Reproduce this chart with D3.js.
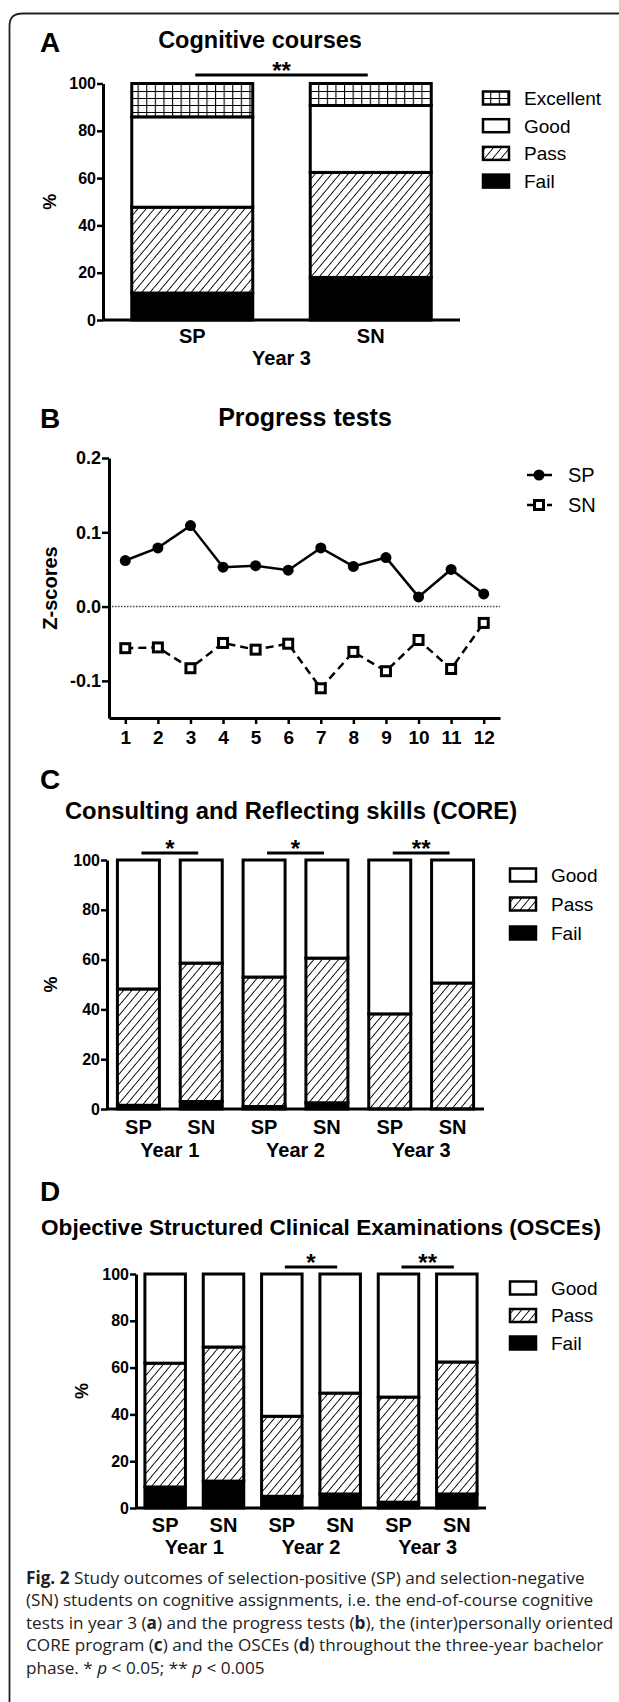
<!DOCTYPE html>
<html>
<head>
<meta charset="utf-8">
<script src="https://cdn.jsdelivr.net/npm/d3@7"></script>
<style>
body { margin: 0; background: #fff; }
svg text { font-family: "Liberation Sans", Arial, sans-serif; fill: #000; }
</style>
</head>
<body>
<svg id="fig" width="619" height="1702"></svg>
<script>
// panel A - cognitive courses (year 3), % per grade
var courseGroups = ["SP", "SN"];
var courseFail = [11.4, 18.0];
var coursePass = [36.3, 44.4];
var courseGood = [38.2, 28.3];
var courseExcellent = [14.1, 9.3];

// panel B - progress tests, z-scores
var testNumbers = [1, 2, 3, 4, 5, 6, 7, 8, 9, 10, 11, 12];
var spScores = [0.062, 0.079, 0.109, 0.053, 0.055, 0.049, 0.079, 0.054, 0.066, 0.013, 0.050, 0.017];
var snScores = [-0.056, -0.055, -0.083, -0.049, -0.058, -0.050, -0.110, -0.061, -0.087, -0.045, -0.084, -0.022];
var zTicks = [-0.1, 0.0, 0.1, 0.2];

// panel C - CORE
var yearGroups = ["SP", "SN", "SP", "SN", "SP", "SN"];
var yearLabels = ["Year 1", "Year 2", "Year 3"];
var coreFail = [1.5, 3.0, 1.0, 2.5, 0, 0];
var corePass = [46.7, 55.6, 52.0, 58.1, 38.2, 50.6];
var coreGood = [51.8, 41.4, 47.0, 39.4, 61.8, 49.4];

// panel D - OSCEs
var osceFail = [9.0, 11.5, 5.0, 6.0, 2.5, 6.0];
var oscePass = [52.9, 57.3, 34.2, 43.1, 44.9, 56.4];
var osceGood = [38.1, 31.2, 60.8, 50.9, 52.6, 37.6];

var pctTicks = [0, 20, 40, 60, 80, 100];

var svg = d3.select("#fig");
var FONT = '"Liberation Sans", Arial, sans-serif';

// patterns
var defs = svg.append("defs");
var hatch = defs.append("pattern").attr("id", "hatch")
  .attr("patternUnits", "userSpaceOnUse").attr("width", 6.3).attr("height", 6.3)
  .attr("patternTransform", "rotate(40)");
hatch.append("rect").attr("width", 6.3).attr("height", 6.3).attr("fill", "#fff");
hatch.append("line").attr("x1", 0).attr("y1", 0).attr("x2", 0).attr("y2", 6.3)
  .attr("stroke", "#000").attr("stroke-width", 1.8);

var grid = defs.append("pattern").attr("id", "grid")
  .attr("patternUnits", "userSpaceOnUse").attr("width", 8.6).attr("height", 7);
grid.append("rect").attr("width", 8.6).attr("height", 7).attr("fill", "#fff");
grid.append("path").attr("d", "M0,0H8.6M0,0V7").attr("stroke", "#000").attr("stroke-width", 2.2);

// frame
svg.append("path").attr("d", "M9.5,1702V26Q9.5,13.5 22.5,13.5H619")
  .attr("fill", "none").attr("stroke", "#222").attr("stroke-width", 1.8);

function panelLetter(t, y) {
  svg.append("text").attr("x", 40).attr("y", y).attr("font-size", 28)
    .attr("font-weight", "bold").text(t);
}

function title(t, x, y, size) {
  svg.append("text").attr("x", x).attr("y", y).attr("text-anchor", "middle")
    .attr("font-size", size).attr("font-weight", "bold").text(t);
}

function styleAxis(g, size) {
  g.attr("font-family", FONT).attr("font-size", size).attr("font-weight", "bold");
  g.select(".domain").attr("stroke-width", 3);
  g.selectAll(".tick line").attr("stroke-width", 2.5);
}

function stackedPanel(cfg) {
  var ids = d3.range(cfg.groups.length);
  var x = d3.scalePoint().domain(ids).range([cfg.left, cfg.right]).padding(0.5);
  var y = d3.scaleLinear().domain([0, 100]).range([cfg.bottom, cfg.top]);
  var g = svg.append("g");

  ids.forEach(function(i) {
    var acc = 0;
    cfg.series.forEach(function(s) {
      var v = s.values[i];
      if (v > 0) {
        g.append("rect")
          .attr("x", x(i) - cfg.barW / 2).attr("width", cfg.barW)
          .attr("y", y(acc + v)).attr("height", y(acc) - y(acc + v))
          .attr("fill", s.fill).attr("stroke", "#000").attr("stroke-width", 3);
      }
      acc += v;
    });
  });

  // axes
  var ya = g.append("g").attr("transform", "translate(" + cfg.left + ",0)")
    .call(d3.axisLeft(y).tickValues(pctTicks).tickSize(6).tickPadding(1).tickSizeOuter(0));
  styleAxis(ya, 16);
  g.append("line").attr("x1", cfg.left).attr("x2", cfg.right)
    .attr("y1", y(0)).attr("y2", y(0)).attr("stroke", "#000").attr("stroke-width", 3);

  g.append("text").attr("transform", "translate(" + cfg.pctX + "," + (y(50)) + ") rotate(-90)")
    .attr("text-anchor", "middle").attr("font-size", 18).attr("font-weight", "bold").text("%");

  // category labels
  ids.forEach(function(i) {
    g.append("text").attr("x", x(i)).attr("y", y(0) + cfg.labelDy)
      .attr("text-anchor", "middle").attr("font-size", 20).attr("font-weight", "bold")
      .text(cfg.groups[i]);
  });
  cfg.years.forEach(function(yr, k) {
    var cx = (x(2 * k) + x(2 * k + 1)) / 2;
    g.append("text").attr("x", cx).attr("y", y(0) + cfg.yearDy)
      .attr("text-anchor", "middle").attr("font-size", 20).attr("font-weight", "bold")
      .text(yr);
  });

  // significance bars
  cfg.sig.forEach(function(s) {
    var x1 = x(s[0]) + 3, x2 = x(s[1]) - 3;
    g.append("line").attr("x1", x1).attr("x2", x2).attr("y1", cfg.sigY).attr("y2", cfg.sigY)
      .attr("stroke", "#000").attr("stroke-width", 3);
    g.append("text").attr("x", (x1 + x2) / 2).attr("y", cfg.sigY + 4)
      .attr("text-anchor", "middle").attr("font-size", 24).attr("font-weight", "bold").text(s[2]);
  });

  // legend
  var leg = cfg.series.slice().reverse();
  leg.forEach(function(s, k) {
    var ly = cfg.legY + k * cfg.legStep;
    g.append("rect").attr("x", cfg.legX).attr("y", ly - 6.5).attr("width", 26).attr("height", 13)
      .attr("fill", s.fill).attr("stroke", "#000").attr("stroke-width", 2.5);
    g.append("text").attr("x", cfg.legX + 41).attr("y", ly).attr("dy", "0.36em")
      .attr("font-size", 19).text(s.name);
  });
}

// ---------- A ----------
panelLetter("A", 52);
title("Cognitive courses", 260, 48, 23.5);
stackedPanel({
  groups: courseGroups, years: ["Year 3"],
  left: 103, right: 460, top: 83.5, bottom: 320, barW: 121,
  series: [
    {name: "Fail", values: courseFail, fill: "#000"},
    {name: "Pass", values: coursePass, fill: "url(#hatch)"},
    {name: "Good", values: courseGood, fill: "#fff"},
    {name: "Excellent", values: courseExcellent, fill: "url(#grid)"}
  ],
  sig: [[0, 1, "**"]], sigY: 75,
  pctX: 56, labelDy: 23, yearDy: 45,
  legX: 483, legY: 98, legStep: 27.7
});

// ---------- B ----------
panelLetter("B", 428);
title("Progress tests", 305, 426, 25);

var xB = d3.scaleLinear().domain([0.5, 12.5]).range([109, 500]);
var yB = d3.scaleLinear().domain([-0.15, 0.2]).range([718, 458]);
var gB = svg.append("g");

gB.append("line").attr("x1", xB(0.5)).attr("x2", xB(12.5)).attr("y1", yB(0)).attr("y2", yB(0))
  .attr("stroke", "#444").attr("stroke-width", 1.5).attr("stroke-dasharray", "1.5,1.5");

var yaB = gB.append("g").attr("transform", "translate(" + xB(0.5) + ",0)")
  .call(d3.axisLeft(yB).tickValues(zTicks).tickFormat(function(d) { return d.toFixed(1); })
    .tickSize(7).tickPadding(1).tickSizeOuter(0));
styleAxis(yaB, 18);
var xaB = gB.append("g").attr("transform", "translate(0," + yB(-0.15) + ")")
  .call(d3.axisBottom(xB).tickValues(testNumbers).tickSize(6).tickPadding(7).tickSizeOuter(0));
styleAxis(xaB, 19);

gB.append("text").attr("transform", "translate(57," + yB(0.025) + ") rotate(-90)")
  .attr("text-anchor", "middle").attr("font-size", 20).attr("font-weight", "bold").text("Z-scores");

var spPts = testNumbers.map(function(t, i) { return {t: t, v: spScores[i]}; });
var snPts = testNumbers.map(function(t, i) { return {t: t, v: snScores[i]}; });
var lineB = d3.line().x(function(d) { return xB(d.t); }).y(function(d) { return yB(d.v); });

gB.append("path").datum(spPts).attr("d", lineB).attr("fill", "none")
  .attr("stroke", "#000").attr("stroke-width", 2.5);
gB.append("path").datum(snPts).attr("d", lineB).attr("fill", "none")
  .attr("stroke", "#000").attr("stroke-width", 2.5).attr("stroke-dasharray", "8,5");

gB.selectAll(".spdot").data(spPts).enter().append("circle")
  .attr("cx", function(d) { return xB(d.t); }).attr("cy", function(d) { return yB(d.v); })
  .attr("r", 5.5).attr("fill", "#000");
gB.selectAll(".snsq").data(snPts).enter().append("rect")
  .attr("x", function(d) { return xB(d.t) - 4.5; }).attr("y", function(d) { return yB(d.v) - 4.5; })
  .attr("width", 9).attr("height", 9).attr("fill", "#fff").attr("stroke", "#000").attr("stroke-width", 3);

// legend B
gB.append("line").attr("x1", 527).attr("x2", 552).attr("y1", 475).attr("y2", 475)
  .attr("stroke", "#000").attr("stroke-width", 2.5);
gB.append("circle").attr("cx", 539).attr("cy", 475).attr("r", 5.5).attr("fill", "#000");
gB.append("text").attr("x", 568).attr("y", 475).attr("dy", "0.36em").attr("font-size", 20).text("SP");
gB.append("line").attr("x1", 527).attr("x2", 552).attr("y1", 505).attr("y2", 505)
  .attr("stroke", "#000").attr("stroke-width", 2.5).attr("stroke-dasharray", "6,4");
gB.append("rect").attr("x", 534.5).attr("y", 500.5).attr("width", 9).attr("height", 9)
  .attr("fill", "#fff").attr("stroke", "#000").attr("stroke-width", 3);
gB.append("text").attr("x", 568).attr("y", 505).attr("dy", "0.36em").attr("font-size", 20).text("SN");

// ---------- C ----------
panelLetter("C", 789);
title("Consulting and Reflecting skills (CORE)", 291, 819, 23.8);
stackedPanel({
  groups: yearGroups, years: yearLabels,
  left: 107, right: 484, top: 860, bottom: 1109, barW: 42,
  series: [
    {name: "Fail", values: coreFail, fill: "#000"},
    {name: "Pass", values: corePass, fill: "url(#hatch)"},
    {name: "Good", values: coreGood, fill: "#fff"}
  ],
  sig: [[0, 1, "*"], [2, 3, "*"], [4, 5, "**"]], sigY: 853,
  pctX: 57, labelDy: 25, yearDy: 48,
  legX: 510, legY: 875, legStep: 29
});

// ---------- D ----------
panelLetter("D", 1201);
title("Objective Structured Clinical Examinations (OSCEs)", 321, 1235, 22.6);
stackedPanel({
  groups: yearGroups, years: yearLabels,
  left: 136, right: 486, top: 1274, bottom: 1508, barW: 40.5,
  series: [
    {name: "Fail", values: osceFail, fill: "#000"},
    {name: "Pass", values: oscePass, fill: "url(#hatch)"},
    {name: "Good", values: osceGood, fill: "#fff"}
  ],
  sig: [[2, 3, "*"], [4, 5, "**"]], sigY: 1267,
  pctX: 88, labelDy: 24, yearDy: 46,
  legX: 510, legY: 1288, legStep: 27.5
});

// ---------- caption ----------
var captionLines = [
  [["Fig. 2", "b"], [" Study outcomes of selection-positive (SP) and selection-negative", ""]],
  [["(SN) students on cognitive assignments, i.e. the end-of-course cognitive", ""]],
  [["tests in year 3 (", ""], ["a", "b"], [") and the progress tests (", ""], ["b", "b"], ["), the (inter)personally oriented", ""]],
  [["CORE program (", ""], ["c", "b"], [") and the OSCEs (", ""], ["d", "b"], [") throughout the three-year bachelor", ""]],
  [["phase. * ", ""], ["p", "i"], [" < 0.05; ** ", ""], ["p", "i"], [" < 0.005", ""]]
];
var capNodes = captionLines.map(function(line, li) {
  var t = svg.append("text").attr("x", 26).attr("y", 1583.5 + li * 22.6)
    .style("font-family", '"Open Sans", "Noto Sans", sans-serif').attr("font-size", 17.5)
    .style("fill", "#222");
  line.forEach(function(part) {
    var ts = t.append("tspan").text(part[0]);
    if (part[1] == "b") ts.attr("font-weight", "bold");
    if (part[1] == "i") ts.attr("font-style", "italic");
  });
  return t;
});
// fit caption size to the width of the third line (ends near x=614)
var w3 = capNodes[2].node().getComputedTextLength();
var capSize = Math.max(14, Math.min(20, 17.5 * 588 / w3));
capNodes.forEach(function(t) { t.attr("font-size", capSize); });
</script>
</body>
</html>
